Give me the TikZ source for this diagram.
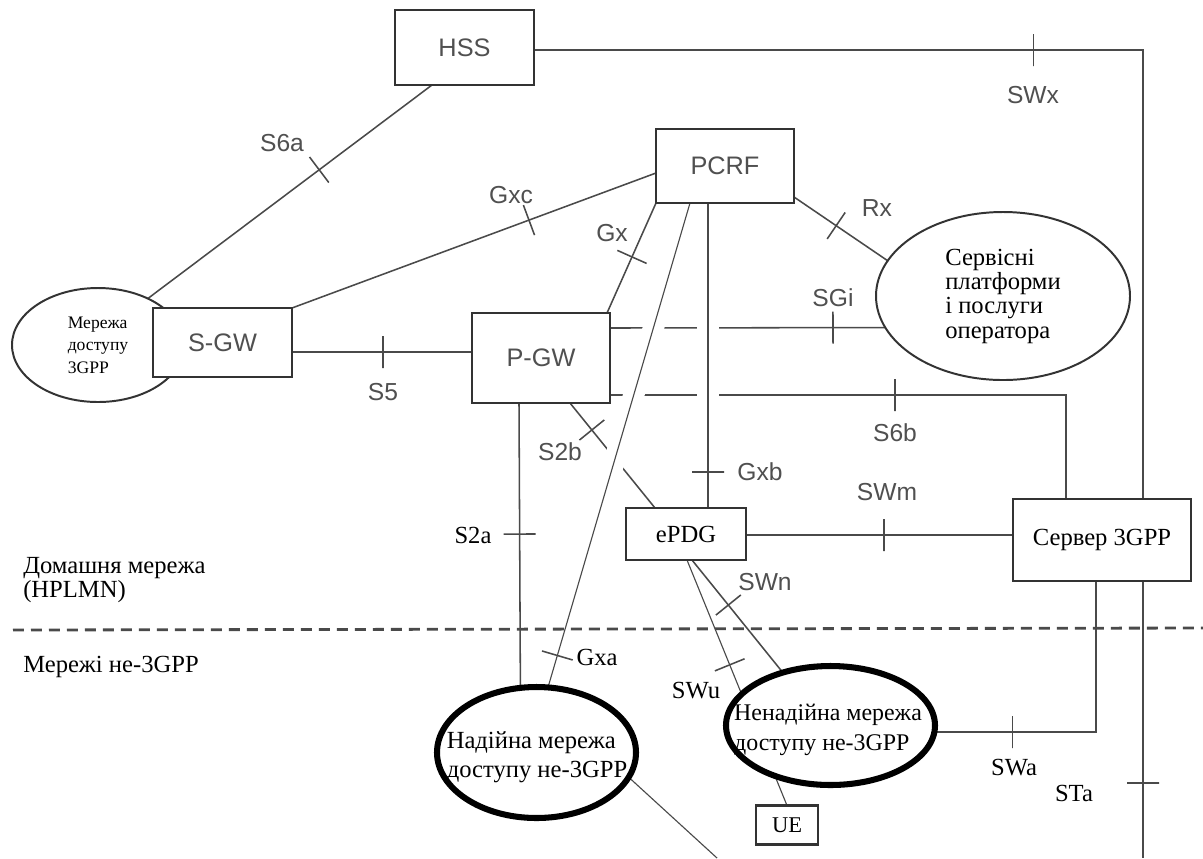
\documentclass[tikz,border=0pt]{standalone}
\usepackage{fontspec}
\setmainfont{Liberation Serif}
\setsansfont{Liberation Sans}
\usetikzlibrary{shapes.geometric}
\pgfdeclarelayer{paper}
\pgfdeclarelayer{wires}
\pgfsetlayers{paper,wires,main}
\newcommand{\pxl}[1]{#1*0.025cm}
\definecolor{boxc}{HTML}{333333}
\definecolor{wirec}{HTML}{4A4A4A}
\definecolor{lblc}{HTML}{505050}

\begin{document}
\begin{tikzpicture}[x=0.025cm, y=-0.025cm,
  nbox/.style={draw=boxc, line width=1.9pt, fill=white, inner sep=0pt, outer sep=0pt,
    text=lblc, font=\sffamily\fontsize{18pt}{20pt}\selectfont},
  sbox/.style={draw=boxc, line width=1.9pt, fill=white, inner sep=0pt, outer sep=0pt,
    text=black, font=\rmfamily\fontsize{17.5pt}{20pt}\selectfont},
  thinell/.style={ellipse, draw=boxc, line width=1.4pt, fill=white, inner sep=0pt,
    outer sep=0pt, align=left},
  boldell/.style={ellipse, draw=black, line width=4.3pt, fill=white, inner sep=0pt,
    outer sep=0pt},
  wire/.style={draw=wirec, line width=1.1pt},
  fine/.style={draw=wirec, line width=0.8pt},
  halo/.style={preaction={draw=white, line width=15pt}},
  tk/.style={sloped, pos=#1, draw=wirec, line width=1.1pt, minimum width=0pt,
    minimum height=\pxl{32}, inner sep=0pt, outer sep=0pt},
  sl/.style={text=lblc, inner sep=0pt, font=\sffamily\fontsize{17.5pt}{20pt}\selectfont},
  rl/.style={text=black, inner sep=0pt, font=\rmfamily\fontsize{17.5pt}{20pt}\selectfont},
  boundary/.style={draw=wirec, line width=2pt, dash pattern=on 7.8pt off 5pt},
]
\useasboundingbox (0,0) rectangle (1203,858);
\begin{pgfonlayer}{paper}
  \fill[white] (0,0) rectangle (1203,858);
\end{pgfonlayer}

% network elements
\node[nbox, minimum width=\pxl{139}, minimum height=\pxl{75}] (hss) at (464.5,47.5) {HSS};
\node[nbox, minimum width=\pxl{138}, minimum height=\pxl{74}] (pcrf) at (725,166) {PCRF};
\node[thinell, minimum width=\pxl{172}, minimum height=\pxl{114},
  font=\rmfamily\fontsize{12.5pt}{16pt}\selectfont] (acc) at (98,345) {Мережа\\доступу\\3GPP};
\node[nbox, minimum width=\pxl{139}, minimum height=\pxl{69}] (sgw) at (222.5,342.5) {S-GW};
\node[nbox, minimum width=\pxl{138}, minimum height=\pxl{90}] (pgw) at (541,358) {P-GW};
\node[thinell, minimum width=\pxl{254}, minimum height=\pxl{168},
  font=\rmfamily\fontsize{17.5pt}{17.3pt}\selectfont] (svc) at (1003,296)
  {Сервісні\\платформи\\і послуги\\оператора};
\node[sbox, minimum width=\pxl{120}, minimum height=\pxl{52}] (epdg) at (686,534) {ePDG};
\node[sbox, minimum width=\pxl{178}, minimum height=\pxl{82}] (srv) at (1102,540) {Сервер 3GPP};
\node[boldell, minimum width=\pxl{199}, minimum height=\pxl{131}] (trusted) at (536.5,752.5) {};
\node[boldell, minimum width=\pxl{209}, minimum height=\pxl{119}] (untrusted) at (830.5,725.5) {};
\node[rl, align=left, font=\rmfamily\fontsize{17.5pt}{21pt}\selectfont] (trustedtxt) at (537,757)
  {Надійна мережа\\доступу не-3GPP};
\node[rl, align=left, font=\rmfamily\fontsize{17pt}{21pt}\selectfont] (untrustedtxt) at (828,730)
  {Ненадійна мережа\\доступу не-3GPP};
\node[sbox, line width=1.5pt, minimum width=\pxl{62}, minimum height=\pxl{39},
  font=\rmfamily\fontsize{16pt}{18pt}\selectfont] (ue) at (787,825) {UE};

\coordinate (staend) at (1143,858);
\coordinate (offpage) at (717,858);
\coordinate (dl) at (13,630);
\coordinate (dr) at (1203,628);

% interfaces between the elements
\begin{pgfonlayer}{wires}
  % SWx
  \draw[wire] (hss.east |- 0,50) -| node[tk=0.41]{} (srv.north -| 1143,0);
  % STa
  \draw[wire] (srv.south -| 1143,0) -- node[tk=0.73]{} (staend);
  % S6a
  \draw[wire] (hss.south -| 432,0) -- node[tk=0.397]{} (acc.43);
  % Gxc
  \draw[wire] (sgw.north east) -- node[tk=0.651]{} (pcrf.west |- 0,173);
  % S5
  \draw[wire] (sgw.east |- 0,352) -- node[tk=0.506]{} (pgw.west |- 0,352);
  % Gx
  \draw[wire] (pgw.north -| 607,0) -- node[tk=0.51]{} (pcrf.south west);
  % Rx
  \draw[wire] (pcrf.east |- 0,197) -- node[tk=0.45]{} (svc.163);
  % SGi
  \draw[wire] (pgw.east |- 0,328) -- node[tk=0.81]{} (svc.195);
  % S6b
  \draw[wire] (pgw.east |- 0,395) -| node[tk=0.3125]{} (srv.north -| 1066,0);
  % S2b
  \draw[wire] (pgw.south -| 570,0) -- node[tk=0.257]{} (epdg.north -| 655,0);
  % S2a
  \draw[wire] (pgw.south -| 519,0) -- node[tk=0.46]{} (trusted.104);
  % SWm
  \draw[wire] (epdg.east |- 0,535) -- node[tk=0.517]{} (srv.west |- 0,535);
  % SWu
  \draw[fine] (epdg.south -| 687,0) -- node[tk=0.427]{} (ue.north -| 787,0);
  % SWn
  \draw[wire] (epdg.south -| 692,0) -- node[tk=0.4]{} (untrusted.132);
  % SWa
  \draw[wire] (srv.south -| 1096,0) |- node[tk=0.76]{} (untrusted.east |- 0,732);
  % trusted access towards the UE
  \draw[fine] (trusted.-15) -- (offpage);
  % Gxb and Gxa pass over the wires they cross
  \draw[wire, halo] (pcrf.south -| 708,0) -- node[tk=0.882]{} (epdg.north -| 708,0);
  \draw[fine, halo] (pcrf.south -| 690,0) -- node[tk=0.934]{} (trusted.80);
  % HPLMN / non-3GPP boundary
  \draw[boundary] (dl) -- (dr);
\end{pgfonlayer}

% interface labels
\node[sl] (l-s6a) at (282,143) {S6a};
\node[sl] (l-gxc) at (511,195) {Gxc};
\node[sl] (l-gx) at (612,233) {Gx};
\node[sl] (l-rx) at (877,208) {Rx};
\node[sl] (l-swx) at (1033,95) {SWx};
\node[sl] (l-sgi) at (833,298) {SGi};
\node[sl] (l-s5) at (383,392) {S5};
\node[sl] (l-s2b) at (560,452) {S2b};
\node[sl] (l-s6b) at (895,433) {S6b};
\node[sl] (l-gxb) at (760,472) {Gxb};
\node[sl] (l-swm) at (887,492) {SWm};
\node[sl] (l-swn) at (765,582) {SWn};
\node[rl] (l-s2a) at (473,535) {S2a};
\node[rl] (l-gxa) at (597,657) {Gxa};
\node[rl] (l-swu) at (696,691) {SWu};
\node[rl] (l-swa) at (1014,768) {SWa};
\node[rl] (l-sta) at (1074,793) {STa};

% domain captions
\node[rl, anchor=west, align=left, font=\rmfamily\fontsize{17.5pt}{17pt}\selectfont] (home) at (23,580)
  {Домашня мережа\\(HPLMN)};
\node[rl, anchor=west] (nongpp) at (23,667) {Мережі не-3GPP};
\end{tikzpicture}
\end{document}
